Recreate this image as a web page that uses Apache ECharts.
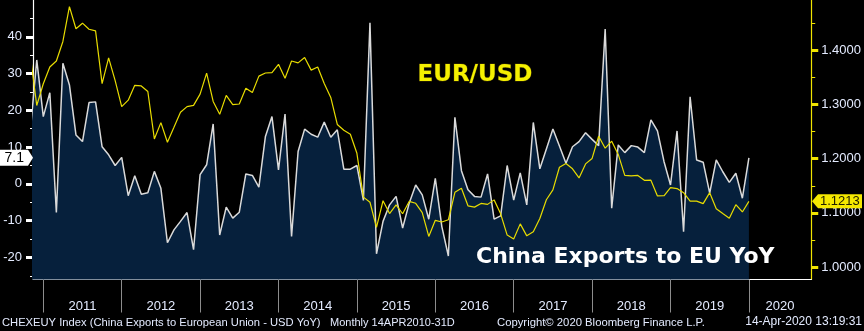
<!DOCTYPE html>
<html>
<head>
<meta charset="utf-8">
<script src="https://cdn.jsdelivr.net/npm/echarts@6/dist/echarts.min.js"></script>
<style>
html,body{margin:0;padding:0;background:#000;}
#c{width:864px;height:331px;}
</style>
</head>
<body>
<div id="c"></div>
<script>
// ---- data (monthly, month-end, starting Oct 2010) ----
const startYear = 2010;
const startMonth = 10; // October
const chinaExportsYoY = [
  14.0, 33.7, 18.3,
  24.8, -7.8, 32.8, 26.9, 13.3, 11.5, 22.1, 22.3, 10.1, 7.9, 5.0, 7.2,
  -3.2, 2.2, -2.8, -2.4, 3.4, -1.2, -16.0, -12.5, -10.2, -7.8, -17.9, 2.5,
  5.2, 16.3, -13.9, -6.3, -9.3, -7.7, 2.7, 2.3, -0.9, 12.9, 18.3, 3.8,
  19.0, -14.3, 8.8, 14.9, 13.5, 12.7, 16.8, 12.7, 14.7, 4.0, 4.0, 5.0,
  -4.5, 43.8, -19.0, -10.2, -5.7, -3.4, -12.0, -5.3, -0.3, -3.0, -9.6, 1.5,
  -11.6, -19.6, 18.1, 3.6, -1.6, -3.4, -3.6, 2.7, -9.6, -8.7, 5.0, -4.4,
  3.0, -5.7, 16.7, 4.1, 9.5, 14.9, 10.3, 5.6, 10.1, 11.5, 13.9, 12.1,
  10.4, 42.1, -6.6, 10.6, 8.5, 10.4, 10.0, 8.5, 17.4, 14.4, 6.1, -0.3,
  14.4, -13.0, 23.7, 6.5, 5.9, -2.5, 6.5, 3.3, 0.4, 2.9, -3.9, 7.1
];
const eurUsd = [
  1.3922, 1.2983, 1.3384,
  1.3692, 1.3803, 1.4165, 1.4807, 1.4399, 1.4502, 1.4390, 1.4360, 1.3387, 1.3862, 1.3440, 1.2961,
  1.3081, 1.3354, 1.3343, 1.3240, 1.2365, 1.2666, 1.2304, 1.2579, 1.2859, 1.2961, 1.2985, 1.3193,
  1.3580, 1.3057, 1.2819, 1.3169, 1.2999, 1.3010, 1.3302, 1.3222, 1.3525, 1.3582, 1.3589, 1.3743,
  1.3486, 1.3803, 1.3769, 1.3870, 1.3635, 1.3692, 1.3390, 1.3132, 1.2632, 1.2525, 1.2452, 1.2100,
  1.1291, 1.1196, 1.0731, 1.1224, 1.0987, 1.1147, 1.0984, 1.1211, 1.1177, 1.1005, 1.0565, 1.0862,
  1.0831, 1.0873, 1.1380, 1.1454, 1.1130, 1.1106, 1.1175, 1.1157, 1.1240, 1.0982, 1.0590, 1.0517,
  1.0797, 1.0576, 1.0652, 1.0895, 1.1243, 1.1426, 1.1842, 1.1910, 1.1814, 1.1646, 1.1904, 1.2005,
  1.2414, 1.2194, 1.2324, 1.2079, 1.1693, 1.1684, 1.1691, 1.1601, 1.1604, 1.1313, 1.1316, 1.1467,
  1.1448, 1.1372, 1.1217, 1.1216, 1.1170, 1.1373, 1.1076, 1.0987, 1.0899, 1.1152, 1.1017, 1.1213
];
const yearLabels = ['2011','2012','2013','2014','2015','2016','2017','2018','2019','2020'];
const leftTicks = [-20, -10, 0, 10, 20, 30, 40];
const leftMinorTicks = [-25, -15, -5, 5, 15, 25, 35, 45];
const rightTicks = [1.0, 1.1, 1.2, 1.3, 1.4];
const rightMinorTicks = [1.05, 1.15, 1.25, 1.35, 1.45];
const seriesTitleA = 'EUR/USD';
const seriesTitleB = 'China Exports to EU YoY';
const footerLeft = 'CHEXEUY Index (China Exports to European Union - USD YoY)';
const footerMid = 'Monthly 14APR2010-31D';
const footerCopy = 'Copyright\u00A9 2020 Bloomberg Finance L.P.';
const footerDate = '14-Apr-2020 13:19:31';

// x = months since 1 Jan 2011 (month-end points)
const baseYear = 2011;
const monthX = i => (startYear - baseYear) * 12 + (startMonth - 1) + i + 1;
const xMin = -1.575, xMax = 117.54;
const whiteData = chinaExportsYoY.map((v, i) => [monthX(i), v]);
const yellowData = eurUsd.map((v, i) => [monthX(i), v]);
const yearStarts = yearLabels.map(y => (Number(y) - baseYear) * 12);
const yearCenters = yearStarts.map(s => Math.min(s + 6, (s + xMax) / 2));

const lblColor = '#e4ebff';
const font = 'Liberation Sans';
const chart = echarts.init(document.getElementById('c'), null, {renderer: 'canvas'});
const grid = {left: 33, right: 52, top: 0, height: 279.5};
chart.setOption({
  backgroundColor: '#000',
  animation: false,
  grid: grid,
  xAxis: {
    type: 'value', min: xMin, max: xMax,
    splitLine: {show: false},
    axisLine: {show: true, onZero: false, lineStyle: {color: '#ffffff', width: 1.2}},
    axisTick: {show: true, customValues: yearStarts, length: 33, lineStyle: {color: '#8c8c8c', width: 1}},
    axisLabel: {
      show: true, customValues: yearCenters, margin: 20, color: lblColor,
      fontFamily: font, fontSize: 13,
      formatter: v => { const k = yearCenters.findIndex(c => Math.abs(c - v) < 1e-6); return k >= 0 ? yearLabels[k] : ''; }
    }
  },
  yAxis: [
    { type: 'value', min: -26, max: 50, position: 'left',
      axisLine: {show: true, onZero: false, lineStyle: {color: '#ffffff', width: 1.2}},
      axisTick: {show: true, customValues: leftMinorTicks, length: 3, lineStyle: {color: '#ffffff'}},
      axisLabel: {show: false}, splitLine: {show: false} },
    { type: 'value', min: -26, max: 50, position: 'left',
      axisLine: {show: false, onZero: false},
      axisTick: {show: true, customValues: leftTicks, length: 7, lineStyle: {color: '#ffffff', width: 3}},
      axisLabel: {show: true, customValues: leftTicks, margin: 11, color: lblColor, fontFamily: font, fontSize: 13},
      splitLine: {show: false} },
    { type: 'value', min: 0.977, max: 1.493, position: 'right',
      axisLine: {show: true, onZero: false, lineStyle: {color: '#f0e400', width: 1.2}},
      axisTick: {show: true, customValues: rightMinorTicks, length: 4, lineStyle: {color: '#f0e400'}},
      axisLabel: {show: false}, splitLine: {show: false} },
    { type: 'value', min: 0.977, max: 1.493, position: 'right',
      axisLine: {show: false, onZero: false},
      axisTick: {show: true, customValues: rightTicks, length: 7, lineStyle: {color: '#f0e400', width: 3}},
      axisLabel: {show: true, customValues: rightTicks, margin: 10, color: lblColor, fontFamily: font, fontSize: 13,
                  formatter: v => v.toFixed(4)},
      splitLine: {show: false} }
  ],
  series: [
    { type: 'line', yAxisIndex: 0, data: whiteData, symbol: 'none', clip: true,
      lineStyle: {color: '#dadada', width: 1.5},
      areaStyle: {color: '#06203c', origin: 'start', opacity: 1}, z: 2 },
    { type: 'line', yAxisIndex: 2, data: yellowData, symbol: 'none', clip: true,
      lineStyle: {color: '#e8dc00', width: 1.2}, z: 3 }
  ]
});

const yW = chart.convertToPixel({yAxisIndex: 0}, chinaExportsYoY[chinaExportsYoY.length - 1]);
const yY = chart.convertToPixel({yAxisIndex: 2}, eurUsd[eurUsd.length - 1]);
const lastW = chinaExportsYoY[chinaExportsYoY.length - 1];
const lastY = eurUsd[eurUsd.length - 1];
chart.setOption({
  graphic: [
    { type: 'text', left: 417, top: 63, z: 10,
      style: {text: seriesTitleA, fill: '#f5f000', font: 'bold 23px "DejaVu Sans"', stroke: '#3a3000', lineWidth: 1} },
    { type: 'text', left: 476, top: 246, z: 10,
      style: {text: seriesTitleB, fill: '#ffffff', font: 'bold 22px "DejaVu Sans"'} },
    { type: 'polygon', z: 10, shape: {points: [[0, yW - 8], [28, yW - 8], [33, yW], [28, yW + 8], [0, yW + 8]]},
      style: {fill: '#ffffff'} },
    { type: 'text', z: 11, x: 24, y: yW, style: {text: lastW.toFixed(1), fill: '#000', font: '14px "Liberation Sans"', align: 'right', verticalAlign: 'middle'} },
    { type: 'polygon', z: 10, shape: {points: [[812, yY], [818, yY - 7], [862, yY - 7], [862, yY + 7], [818, yY + 7]]},
      style: {fill: '#f5e800'} },
    { type: 'text', z: 11, x: 820, y: yY, style: {text: lastY.toFixed(4), fill: '#202000', font: '13px "Liberation Sans"', verticalAlign: 'middle'} },
    { type: 'text', left: 2, top: 317, style: {text: footerLeft, fill: lblColor, font: '11.2px "Liberation Sans"'} },
    { type: 'text', left: 330, top: 317, style: {text: footerMid, fill: lblColor, font: '11px "Liberation Sans"'} },
    { type: 'text', left: 497, top: 317, style: {text: footerCopy, fill: lblColor, font: '11.3px "Liberation Sans"'} },
    { type: 'text', right: 2, top: 316, style: {text: footerDate, fill: lblColor, font: '12px "Liberation Sans"'} }
  ]
});
</script>
</body>
</html>
